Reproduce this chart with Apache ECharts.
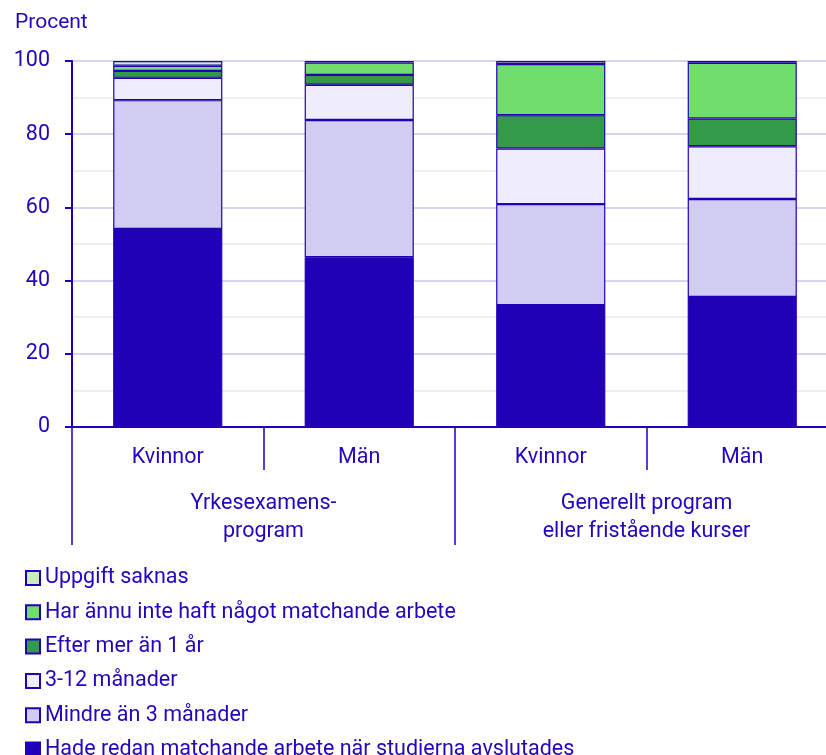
<!DOCTYPE html>
<html>
<head>
<meta charset="utf-8">
<script src="https://cdn.jsdelivr.net/npm/echarts@6/dist/echarts.min.js"></script>
<style>
  html, body { margin: 0; padding: 0; background: #fff; }
  #chart { width: 826px; height: 755px; }
</style>
</head>
<body>
<div id="chart"></div>
<script>
// kategorier
var kon = ['Kvinnor', 'Män', 'Kvinnor', 'Män'];
var program = ['Yrkesexamens-\nprogram', 'Generellt program\neller fristående kurser'];

// andelar i procent, per stapel
var hadeRedan = [54.1, 46.4, 33.3, 35.5];
var mindre3 = [35.2, 37.5, 27.6, 26.8];
var manader312 = [6.1, 9.6, 15.2, 14.4];
var efter1ar = [1.9, 2.7, 9.1, 7.6];
var annuInte = [1.4, 3.4, 14.0, 15.2];
var saknas = [1.3, 0.4, 0.8, 0.5];

var blue = '#2200b8';
var textCol = '#2405bd';
var fs = 21.5;

var serier = [
  { name: 'Hade redan matchande arbete när studierna avslutades', data: hadeRedan, color: '#2200b8' },
  { name: 'Mindre än 3 månader', data: mindre3, color: '#d1ccf1' },
  { name: '3-12 månader', data: manader312, color: '#eeecfd' },
  { name: 'Efter mer än 1 år', data: efter1ar, color: '#339b47' },
  { name: 'Har ännu inte haft något matchande arbete', data: annuInte, color: '#70dd6c' },
  { name: 'Uppgift saknas', data: saknas, color: '#c9efb9' }
];

var chart = echarts.init(document.getElementById('chart'));

chart.setOption({
  animation: false,
  textStyle: { fontFamily: 'Roboto', color: textCol },
  title: {
    text: 'Procent',
    left: 10, top: 7,
    textStyle: { fontFamily: 'Roboto', fontSize: 21, fontWeight: 'normal', color: textCol }
  },
  legend: {
    orient: 'vertical',
    left: 25, top: 567,
    height: 260,
    padding: 0,
    itemWidth: 14, itemHeight: 14,
    itemGap: 12.3,
    icon: 'rect',
    textStyle: { fontFamily: 'Roboto', fontSize: fs, lineHeight: 20, color: textCol },
    data: serier.map(function (s) { return s.name; }).reverse()
  },
  grid: { left: 72, width: 766, top: 61, bottom: 328, containLabel: false, outerBoundsMode: 'none' },
  xAxis: [
    {
      type: 'category',
      data: kon,
      position: 'bottom',
      axisLine: { lineStyle: { color: blue, width: 2 } },
      axisTick: { show: true, length: 43, interval: 0, lineStyle: { color: blue, width: 1.5 } },
      axisLabel: { fontSize: fs, color: textCol, margin: 20, fontFamily: 'Roboto' }
    },
    {
      type: 'category',
      data: program,
      position: 'bottom',
      axisLine: { show: true, lineStyle: { color: blue, width: 2 } },
      axisTick: { show: true, length: 118, interval: 0, lineStyle: { color: blue, width: 1.5 } },
      axisLabel: { fontSize: fs, color: textCol, margin: 63, lineHeight: 28, fontFamily: 'Roboto' }
    }
  ],
  yAxis: {
    type: 'value',
    min: 0, max: 100, interval: 20,
    axisLine: { show: true, lineStyle: { color: blue, width: 2 } },
    axisTick: { show: true, length: 7, lineStyle: { color: blue, width: 2 } },
    axisLabel: { fontSize: fs, color: textCol, margin: 22, fontFamily: 'Roboto' },
    splitLine: { lineStyle: { color: '#d6d4f1', width: 2 } },
    minorTick: { show: false, splitNumber: 2 },
    minorSplitLine: { show: true, lineStyle: { color: '#eeeeee', width: 2 } }
  },
  series: serier.map(function (s) {
    return {
      name: s.name,
      type: 'bar',
      stack: 'total',
      xAxisIndex: 0,
      barWidth: '57%',
      data: s.data,
      itemStyle: { color: s.color, borderColor: blue, borderWidth: 1.2 }
    };
  })
});
</script>
</body>
</html>
